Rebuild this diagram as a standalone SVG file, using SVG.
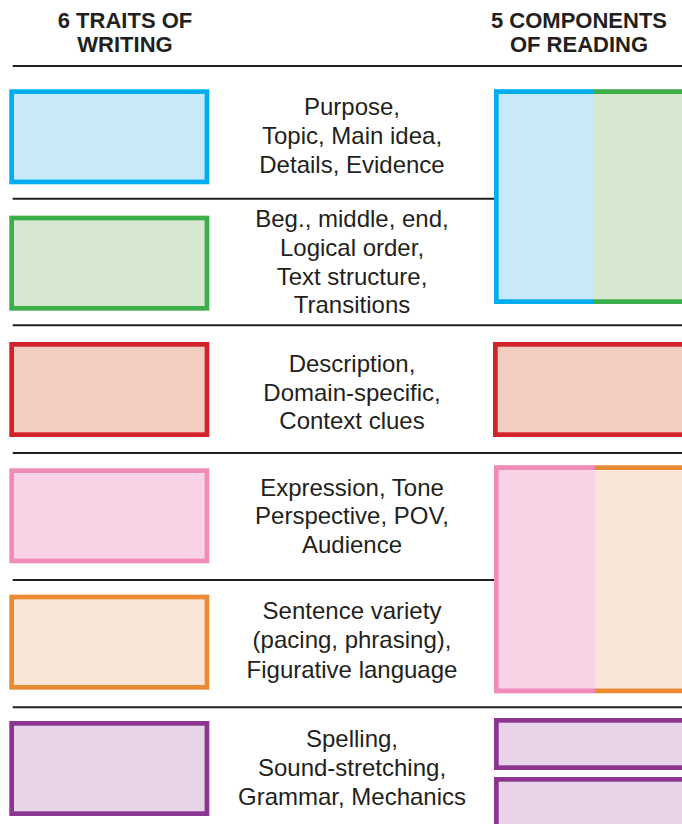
<svg xmlns="http://www.w3.org/2000/svg" width="682" height="824" viewBox="0 0 682 824">
<style>
.hdr{font-family:"Liberation Sans",Arial,sans-serif;font-weight:bold;font-size:22px;fill:#231F20;text-anchor:middle}
.lbl{font-family:"Liberation Sans",Arial,sans-serif;font-size:24px;fill:#231F20;text-anchor:middle}
.sep{stroke:#231F20;stroke-width:2;fill:none}
.bx{stroke-width:4.7}
.blue{fill:#C7E9F8;stroke:#00AEEF}
.green{fill:#D7E8D2;stroke:#3DAE49}
.red{fill:#F2CEC0;stroke:#D2232A}
.pink{fill:#F8D3E5;stroke:#F18BB7}
.orange{fill:#FAE6D8;stroke:#EA8A33}
.purple{fill:#E7D4E8;stroke:#8B3590}
</style>
<rect width="682" height="824" fill="#FFFFFF"/>
<g id="headers">
<text class="hdr" x="125" y="28">6 TRAITS OF</text>
<text class="hdr" x="125" y="52">WRITING</text>
<text class="hdr" x="579" y="28">5 COMPONENTS</text>
<text class="hdr" x="579" y="52">OF READING</text>
</g>
<g id="connectors">
<line class="sep" x1="12.7" y1="66" x2="682" y2="66"/>
<line class="sep" x1="12.7" y1="198.7" x2="495" y2="198.7"/>
<line class="sep" x1="12.7" y1="325.3" x2="682" y2="325.3"/>
<line class="sep" x1="12.7" y1="453" x2="682" y2="453"/>
<line class="sep" x1="12.7" y1="580" x2="495" y2="580"/>
<line class="sep" x1="12.7" y1="707.3" x2="682" y2="707.3"/>
</g>
<g id="trait-ideas">
<rect class="bx blue" x="11.65" y="91.65" width="195.3" height="90.3"/>
</g>
<g id="trait-organization">
<rect class="bx green" x="11.65" y="218" width="195.3" height="90.3"/>
</g>
<g id="trait-word-choice">
<rect class="bx red" x="11.65" y="344.35" width="195.3" height="90.3"/>
</g>
<g id="trait-voice">
<rect class="bx pink" x="11.65" y="470.65" width="195.3" height="90.3"/>
</g>
<g id="trait-fluency">
<rect class="bx orange" x="11.65" y="597" width="195.3" height="90.3"/>
</g>
<g id="trait-conventions">
<rect class="bx purple" x="11.65" y="723.35" width="195.3" height="90.3"/>
</g>
<g id="label-1">
<text class="lbl" x="352" y="115">Purpose,</text>
<text class="lbl" x="352" y="144.3">Topic, Main idea,</text>
<text class="lbl" x="352" y="173.3">Details, Evidence</text>
</g>
<g id="label-2">
<text class="lbl" x="352" y="226.7">Beg., middle, end,</text>
<text class="lbl" x="352" y="255.7">Logical order,</text>
<text class="lbl" x="352" y="284.7">Text structure,</text>
<text class="lbl" x="352" y="313">Transitions</text>
</g>
<g id="label-3">
<text class="lbl" x="352" y="371.7">Description,</text>
<text class="lbl" x="352" y="400.7">Domain-specific,</text>
<text class="lbl" x="352" y="429.3">Context clues</text>
</g>
<g id="label-4">
<text class="lbl" x="352" y="495.7">Expression, Tone</text>
<text class="lbl" x="352" y="524.3">Perspective, POV,</text>
<text class="lbl" x="352" y="552.7">Audience</text>
</g>
<g id="label-5">
<text class="lbl" x="352" y="619">Sentence variety</text>
<text class="lbl" x="352" y="648">(pacing, phrasing),</text>
<text class="lbl" x="352" y="677.5">Figurative language</text>
</g>
<g id="label-6">
<text class="lbl" x="352" y="746.7">Spelling,</text>
<text class="lbl" x="352" y="775.5">Sound-stretching,</text>
<text class="lbl" x="352" y="804.5">Grammar, Mechanics</text>
</g>
<g id="reading-comprehension">
<rect x="494" y="89.3" width="100" height="214.7" fill="#C7E9F8"/>
<rect x="594" y="89.3" width="100" height="214.7" fill="#D7E8D2"/>
<path class="bx" d="M594,91.65 H496.35 V301.65 H594" fill="none" stroke="#00AEEF"/>
<path class="bx" d="M594,91.65 H690 M594,301.65 H690" fill="none" stroke="#3DAE49"/>
</g>
<g id="reading-vocabulary">
<rect class="bx red" x="495.35" y="344.35" width="195" height="90.3"/>
</g>
<g id="reading-fluency">
<rect x="494" y="465.3" width="101" height="228" fill="#F8D3E5"/>
<rect x="595" y="465.3" width="100" height="228" fill="#FAE6D8"/>
<path class="bx" d="M595,467.65 H496.35 V690.95 H595" fill="none" stroke="#F18BB7"/>
<path class="bx" d="M595,467.65 H690 M595,690.95 H690" fill="none" stroke="#EA8A33"/>
</g>
<g id="reading-phonemic">
<rect class="bx purple" x="496.35" y="720.35" width="195" height="47.3"/>
</g>
<g id="reading-phonics">
<rect class="bx purple" x="496.35" y="779.35" width="195" height="60"/>
</g>
</svg>
